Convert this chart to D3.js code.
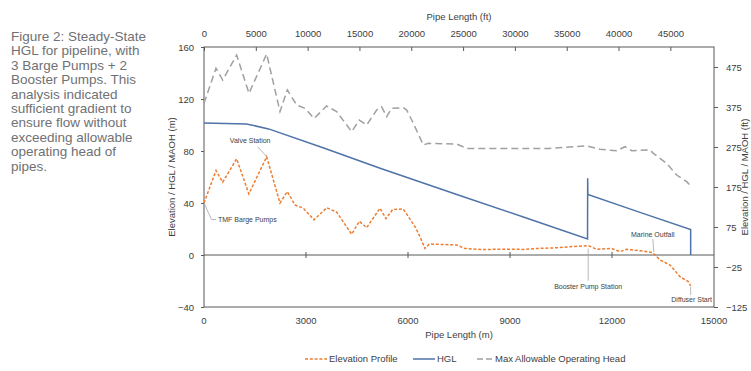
<!DOCTYPE html>
<html>
<head>
<meta charset="utf-8">
<script src="https://cdn.jsdelivr.net/npm/d3@7"></script>
<style>
    body { margin: 0; background: #fff; }
    svg { display: block; font-family: "Liberation Sans", Arial, sans-serif; }
</style>
</head>
<body>
<svg id="chart" width="751" height="371"></svg>
<script>
// Caption text (left column)
const captionLines = [
    'Figure 2: Steady-State',
    'HGL for pipeline, with',
    '3 Barge Pumps + 2',
    'Booster Pumps. This',
    'analysis indicated',
    'sufficient gradient to',
    'ensure flow without',
    'exceeding allowable',
    'operating head of',
    'pipes.'
];

// Tick labels
const xTicksM = [0, 3000, 6000, 9000, 12000, 15000];
const xTicksFt = [0, 5000, 10000, 15000, 20000, 25000, 30000, 35000, 40000, 45000];
const yTicksM = [-40, 0, 40, 80, 120, 160];
const yTicksFt = [-125, -25, 75, 175, 275, 375, 475];

// Elevation profile (m along pipe, elevation m)
const elevDist = [0, 353, 550, 960, 1320, 1843, 2235, 2450, 2676, 2922, 3235, 3608, 3902, 4343, 4569, 4784,
    5176, 5353, 5549, 5863, 6206, 6353, 6500, 6627, 7431, 7676, 8200, 8800, 9400, 9785, 10000, 10400,
    10765, 11304, 11550, 11990, 12235, 12431, 12824, 13196, 13412, 13706, 14000, 14245, 14314];
const elevValues = [40, 65, 56, 74, 47, 75.6, 40, 48.7, 38.5, 36, 27, 36.4, 33, 16, 26, 21,
    36, 28, 35, 35.4, 21.8, 14, 5, 8.5, 7.7, 5, 4.2, 4.5, 4.3, 5, 5.2, 5.6,
    6.4, 7.2, 4.4, 5, 2.6, 4.4, 3.3, 1.8, -3.8, -7.7, -16.7, -20.5, -23.8];

// Hydraulic grade line
const hglDist = [0, 1250, 1900, 3500, 5200, 7500, 9500, 11280, 11285, 11290, 12800, 14314, 14314];
const hglValues = [101.5, 100.8, 97, 82.5, 66.5, 46, 28.3, 12.3, 59, 46.5, 33, 19.5, 0];

// Max allowable operating head
const maohDist = [0, 353, 550, 960, 1323, 1843, 2235, 2451, 2725, 2971, 3235, 3608, 3902, 4343, 4569, 4784,
    5078, 5225, 5373, 5520, 5863, 5961, 6157, 6451, 6598, 7431, 7725, 9000, 10176, 11255, 11353, 11647,
    12137, 12382, 12578, 13118, 13216, 13608, 13902, 14196, 14343];
const maohValues = [116.7, 143.6, 134.6, 153.8, 124.4, 154.6, 110.3, 127, 115.4, 112.8, 105, 114.6, 110.3, 94.9, 103.8, 100,
    111.5, 114, 106.4, 112.8, 113.3, 111.5, 101.3, 84.6, 85.9, 85.4, 82, 82, 82, 84, 83.3, 81.3,
    80.2, 83.3, 80.2, 80.8, 78.2, 70.5, 61.5, 56.4, 52.5];

// Callouts on the elevation profile
const calloutNames = ['TMF Barge Pumps', 'Valve Station', 'Booster Pump Station', 'Marine Outfall', 'Diffuser Start'];
const calloutDist = [0, 1843, 11300, 13230, 14314];
const calloutElev = [40, 75.6, 7.2, 1.5, -23.8];

const seriesNames = ['Elevation Profile', 'HGL', 'Max Allowable Operating Head'];

const svg = d3.select('#chart');

// Caption
const caption = svg.append('text')
    .attr('fill', '#707174')
    .style('font-size', '13.5px');
captionLines.forEach((line, i) => {
    caption.append('tspan')
        .attr('x', 11)
        .attr('y', 41 + i * 14.4)
        .text(line);
});

// Plot area
const margin = { top: 47, left: 204 };
const width = 510;
const height = 260;

const g = svg.append('g').attr('transform', `translate(${margin.left},${margin.top})`);

const x = d3.scaleLinear().domain([0, 15000]).range([0, width]);
const xFt = d3.scaleLinear().domain([0, 15000 / 0.3048]).range([0, width]);
const y = d3.scaleLinear().domain([-40, 160]).range([height, 0]);
const yFt = d3.scaleLinear().domain([-125, 525]).range([height, 0]);

const axisColor = '#595959';
const textColor = '#404040';

// Plot border
g.append('rect')
    .attr('width', width)
    .attr('height', height)
    .attr('fill', 'none')
    .attr('stroke', axisColor)
    .attr('stroke-width', 1);

// Left axis
const leftAxis = g.append('g')
    .call(d3.axisLeft(y).tickValues(yTicksM).tickSize(3).tickPadding(7).tickFormat(d3.format('d')));
leftAxis.select('.domain').remove();
leftAxis.selectAll('line').attr('stroke', axisColor);
leftAxis.selectAll('text').attr('fill', textColor).style('font-size', '9.5px').style('font-family', 'inherit');

// Right axis (ft)
const rightAxis = g.append('g')
    .attr('transform', `translate(${width},0)`)
    .call(d3.axisRight(yFt).tickValues(yTicksFt).tickSize(4).tickPadding(8).tickFormat(d3.format('d')));
rightAxis.select('.domain').remove();
rightAxis.selectAll('line').attr('stroke', axisColor);
rightAxis.selectAll('text').attr('fill', textColor).style('font-size', '9.5px').style('font-family', 'inherit');

// Top axis (ft), ticks point into the plot
const topAxis = g.append('g')
    .call(d3.axisTop(xFt).tickValues(xTicksFt).tickSizeInner(-4).tickSizeOuter(0).tickPadding(10).tickFormat(d3.format('d')));
topAxis.select('.domain').remove();
topAxis.selectAll('line').attr('stroke', axisColor);
topAxis.selectAll('text').attr('fill', textColor).style('font-size', '9.5px').style('font-family', 'inherit');

// Zero line with crossing ticks
g.append('line')
    .attr('x1', 0).attr('x2', width)
    .attr('y1', y(0)).attr('y2', y(0))
    .attr('stroke', axisColor)
    .attr('stroke-width', 1);
g.selectAll('.zero-tick')
    .data(xTicksM.slice(1, -1))
    .join('line')
    .attr('x1', d => x(d)).attr('x2', d => x(d))
    .attr('y1', y(0) - 3).attr('y2', y(0) + 3)
    .attr('stroke', axisColor);

// Bottom tick labels (m) below the plot
g.selectAll('.xlab')
    .data(xTicksM)
    .join('text')
    .attr('x', d => x(d))
    .attr('y', height + 17)
    .attr('text-anchor', 'middle')
    .attr('fill', textColor)
    .style('font-size', '9.5px')
    .text(d => d);

// Axis titles
svg.append('text')
    .attr('x', margin.left + width / 2)
    .attr('y', 338)
    .attr('text-anchor', 'middle')
    .attr('fill', textColor)
    .style('font-size', '9.5px')
    .text('Pipe Length (m)');

svg.append('text')
    .attr('x', margin.left + width / 2)
    .attr('y', 20)
    .attr('text-anchor', 'middle')
    .attr('fill', textColor)
    .style('font-size', '9.5px')
    .text('Pipe Length (ft)');

svg.append('text')
    .attr('transform', `translate(175,${margin.top + height / 2}) rotate(-90)`)
    .attr('text-anchor', 'middle')
    .attr('fill', textColor)
    .style('font-size', '9.5px')
    .text('Elevation / HGL / MAOH (m)');

svg.append('text')
    .attr('transform', `translate(748,${margin.top + height / 2}) rotate(-90)`)
    .attr('text-anchor', 'middle')
    .attr('fill', textColor)
    .style('font-size', '9.5px')
    .text('Elevation / HGL / MAOH (ft)');

// Series lines
const line = d3.line()
    .x(d => x(d[0]))
    .y(d => y(d[1]));

const styles = [
    { color: '#ed7d31', dash: '3,1.8' },
    { color: '#4f73a8', dash: null },
    { color: '#a0a0a0', dash: '7,4' }
];

const series = [
    d3.zip(elevDist, elevValues),
    d3.zip(hglDist, hglValues),
    d3.zip(maohDist, maohValues)
];

series.forEach((data, i) => {
    g.append('path')
        .datum(data)
        .attr('fill', 'none')
        .attr('stroke', styles[i].color)
        .attr('stroke-width', 1.5)
        .attr('stroke-dasharray', styles[i].dash)
        .attr('d', line);
});

// Callouts: leader offsets and label placement relative to anchor (px)
const calloutLayout = {
    'TMF Barge Pumps': { path: [[0, 0], [7.5, 16.5], [12, 16.5]], tx: 14, ty: 16.5, anchor: 'start' },
    'Valve Station': { path: [[0, 0], [-9, -10]], tx: -16.5, ty: -16, anchor: 'middle' },
    'Booster Pump Station': { path: [[0, 3], [0, 35]], tx: 0, ty: 41, anchor: 'middle' },
    'Marine Outfall': { path: [[0, -1], [-1, -14]], tx: -1, ty: -19, anchor: 'middle' },
    'Diffuser Start': { path: [[0, 1], [0, 9]], tx: 1, ty: 14, anchor: 'middle' }
};

calloutNames.forEach((name, i) => {
    const ax = x(calloutDist[i]);
    const ay = y(calloutElev[i]);
    const lay = calloutLayout[name];
    g.append('path')
        .attr('d', d3.line()(lay.path.map(p => [ax + p[0], ay + p[1]])))
        .attr('fill', 'none')
        .attr('stroke', '#a6a6a6')
        .attr('stroke-width', 0.8);
    g.append('text')
        .attr('x', ax + lay.tx)
        .attr('y', ay + lay.ty)
        .attr('dy', '0.35em')
        .attr('text-anchor', lay.anchor)
        .attr('fill', textColor)
        .style('font-size', '7px')
        .text(name);
});

// Legend
const legendX = [305, 413, 477];
const legendW = [22, 22, 16];
const legendDash = ['3,1.8', null, '6,3'];
const legend = svg.append('g').attr('transform', 'translate(0,359)');
seriesNames.forEach((name, i) => {
    legend.append('line')
        .attr('x1', legendX[i])
        .attr('x2', legendX[i] + legendW[i])
        .attr('stroke', styles[i].color)
        .attr('stroke-width', 1.5)
        .attr('stroke-dasharray', legendDash[i]);
    legend.append('text')
        .attr('x', legendX[i] + legendW[i] + 2)
        .attr('dy', '0.35em')
        .attr('fill', textColor)
        .style('font-size', '9.5px')
        .text(name);
});
</script>
</body>
</html>
